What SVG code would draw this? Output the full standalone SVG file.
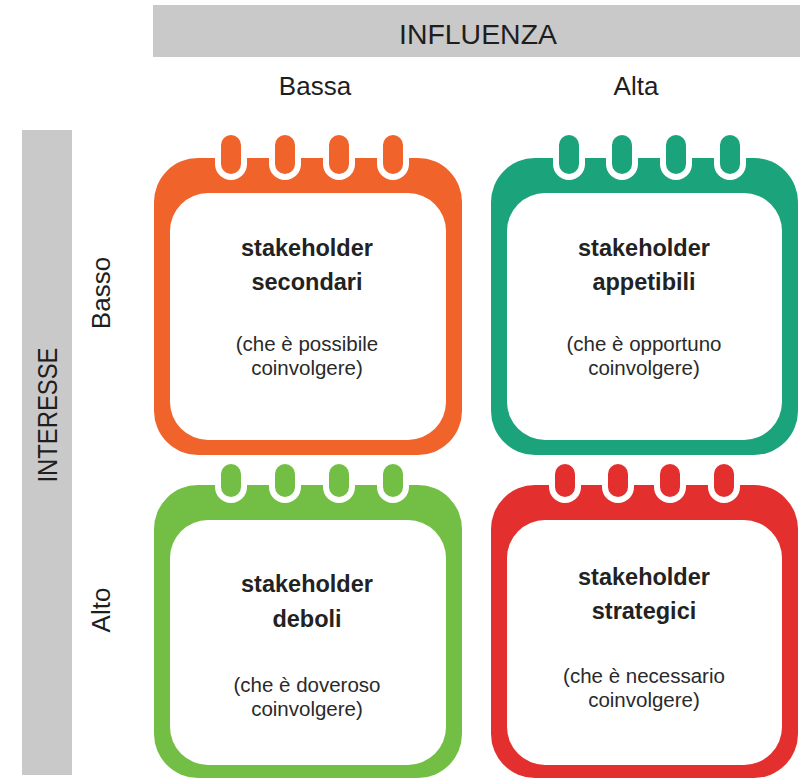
<svg xmlns="http://www.w3.org/2000/svg" width="802" height="779" viewBox="0 0 802 779">
  <style>
    .axis { fill: #c9c9c9; }
    .lbl { font-family: "Liberation Sans", Arial, sans-serif; fill: #1e1e1e; text-anchor: middle; }
    .axis-title { font-size: 27px; }
    .axis-val { font-size: 26px; }
    .title { font-family: "Liberation Sans", Arial, sans-serif; font-weight: bold; font-size: 23.5px; fill: #222; text-anchor: middle; }
    .note { font-family: "Liberation Sans", Arial, sans-serif; font-size: 20.5px; fill: #2a2a2a; text-anchor: middle; }
    .inner { fill: #ffffff; }
    .ring { stroke: #ffffff; stroke-width: 6; }
    .orange { fill: #f0632a; }
    .teal { fill: #1ba37c; }
    .green { fill: #73bf45; }
    .red { fill: #e3302f; }
  </style>

  <rect width="802" height="779" fill="#ffffff"/>

  <!-- axes -->
  <g id="axis-influenza">
    <rect class="axis" x="153" y="5" width="647" height="52"/>
    <text class="lbl axis-title" x="478" y="44" textLength="158" lengthAdjust="spacingAndGlyphs">INFLUENZA</text>
    <text class="lbl axis-val" x="315" y="95">Bassa</text>
    <text class="lbl axis-val" x="636" y="95">Alta</text>
  </g>
  <g id="axis-interesse">
    <rect class="axis" x="22" y="130" width="50" height="645"/>
    <text class="lbl axis-title" transform="translate(57 415) rotate(-90)" textLength="135" lengthAdjust="spacingAndGlyphs">INTERESSE</text>
    <text class="lbl axis-val" transform="translate(110 293) rotate(-90)">Basso</text>
    <text class="lbl axis-val" transform="translate(110 610) rotate(-90)">Alto</text>
  </g>

  <!-- quadrant: low influence / low interest -->
  <g id="card-secondari" class="orange">
    <rect x="154" y="158" width="308" height="297" rx="44"/>
    <rect class="ring" x="218" y="132" width="26" height="45" rx="13"/>
    <rect class="ring" x="272" y="132" width="26" height="45" rx="13"/>
    <rect class="ring" x="326" y="132" width="26" height="45" rx="13"/>
    <rect class="ring" x="380" y="132" width="26" height="45" rx="13"/>
    <rect class="inner" x="170" y="193" width="276" height="247" rx="38"/>
    <text class="title" x="307" y="256">stakeholder</text>
    <text class="title" x="307" y="290">secondari</text>
    <text class="note" x="307" y="351">(che è possibile</text>
    <text class="note" x="307" y="375">coinvolgere)</text>
  </g>

  <!-- quadrant: high influence / low interest -->
  <g id="card-appetibili" class="teal">
    <rect x="491" y="158" width="307" height="297" rx="44"/>
    <rect class="ring" x="556" y="132" width="26" height="45" rx="13"/>
    <rect class="ring" x="609" y="132" width="26" height="45" rx="13"/>
    <rect class="ring" x="663" y="132" width="26" height="45" rx="13"/>
    <rect class="ring" x="717" y="132" width="26" height="45" rx="13"/>
    <rect class="inner" x="507" y="193" width="275" height="247" rx="38"/>
    <text class="title" x="644" y="256">stakeholder</text>
    <text class="title" x="644" y="290">appetibili</text>
    <text class="note" x="644" y="351">(che è opportuno</text>
    <text class="note" x="644" y="375">coinvolgere)</text>
  </g>

  <!-- quadrant: low influence / high interest -->
  <g id="card-deboli" class="green">
    <rect x="154" y="485" width="308" height="293" rx="44"/>
    <rect class="ring" x="218" y="461" width="26" height="39" rx="13"/>
    <rect class="ring" x="272" y="461" width="26" height="39" rx="13"/>
    <rect class="ring" x="326" y="461" width="26" height="39" rx="13"/>
    <rect class="ring" x="380" y="461" width="26" height="39" rx="13"/>
    <rect class="inner" x="170" y="520" width="276" height="245" rx="38"/>
    <text class="title" x="307" y="592">stakeholder</text>
    <text class="title" x="307" y="627">deboli</text>
    <text class="note" x="307" y="692">(che è doveroso</text>
    <text class="note" x="307" y="716">coinvolgere)</text>
  </g>

  <!-- quadrant: high influence / high interest -->
  <g id="card-strategici" class="red">
    <rect x="491" y="485" width="307" height="293" rx="44"/>
    <rect class="ring" x="552" y="461" width="26" height="39" rx="13"/>
    <rect class="ring" x="605" y="461" width="26" height="39" rx="13"/>
    <rect class="ring" x="657" y="461" width="26" height="39" rx="13"/>
    <rect class="ring" x="711" y="461" width="26" height="39" rx="13"/>
    <rect class="inner" x="507" y="520" width="275" height="245" rx="38"/>
    <text class="title" x="644" y="585">stakeholder</text>
    <text class="title" x="644" y="619">strategici</text>
    <text class="note" x="644" y="683">(che è necessario</text>
    <text class="note" x="644" y="707">coinvolgere)</text>
  </g>

  <!-- no connectors in this chart -->
  <g id="connectors"/>
</svg>
